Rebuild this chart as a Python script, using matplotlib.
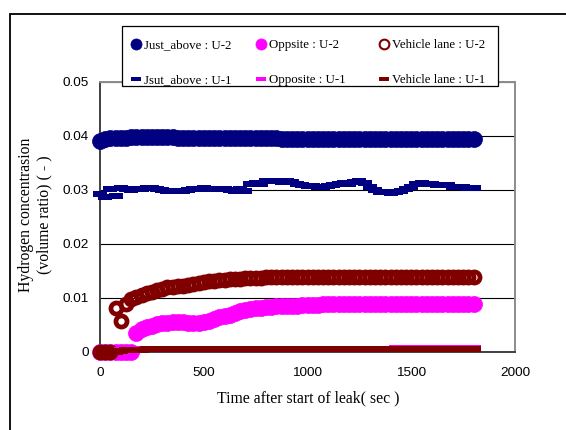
import numpy as np
import matplotlib
matplotlib.use('Agg')
import matplotlib.pyplot as plt
from matplotlib.path import Path
from matplotlib.patches import Rectangle

# ---------------- data ----------------
time_s = np.arange(0, 1801, 25)

just_above_u2 = [
    0.0391, 0.0394, 0.0396, 0.0397, 0.0397, 0.0397, 0.0398, 0.0398, 0.0398, 0.0398,
    0.0398, 0.0399, 0.0398, 0.0398, 0.0398, 0.0397, 0.0397, 0.0397, 0.0397, 0.0397,
    0.0397, 0.0397, 0.0396, 0.0396, 0.0397, 0.0397, 0.0397, 0.0397, 0.0396, 0.0396,
    0.0396, 0.0396, 0.0396, 0.0396, 0.0396, 0.0395, 0.0395, 0.0395, 0.0395, 0.0395,
    0.0395, 0.0395, 0.0395, 0.0395, 0.0395, 0.0395, 0.0395, 0.0395, 0.0395, 0.0395,
    0.0395, 0.0395, 0.0395, 0.0395, 0.0394, 0.0394, 0.0394, 0.0395, 0.0395, 0.0394,
    0.0394, 0.0394, 0.0394, 0.0394, 0.0394, 0.0394, 0.0394, 0.0394, 0.0394, 0.0394,
    0.0394, 0.0394, 0.0394]

opposite_u2 = [
    0.0, 0.0, 0.0, 0.0, 0.0, 0.0, 0.0, 0.0036, 0.0042, 0.0047,
    0.0049, 0.0051, 0.0053, 0.0054, 0.0055, 0.0055, 0.0055, 0.0054, 0.0053, 0.0053,
    0.0055, 0.0058, 0.0062, 0.0065, 0.0066, 0.0068, 0.0072, 0.0076, 0.0078, 0.0080,
    0.0081, 0.0082, 0.0083, 0.0084, 0.0085, 0.0085, 0.0086, 0.0086, 0.0086, 0.0087,
    0.0087, 0.0087, 0.0087, 0.0088, 0.0088, 0.0088, 0.0088, 0.0088, 0.0088, 0.0088,
    0.0088, 0.0088, 0.0089, 0.0089, 0.0089, 0.0089, 0.0089, 0.0089, 0.0089, 0.0089,
    0.0089, 0.0089, 0.0089, 0.0089, 0.0089, 0.0089, 0.0089, 0.0089, 0.0089, 0.0089,
    0.0089, 0.0089, 0.0089]

vehicle_u2 = [
    0.0, 0.0, 0.0, 0.0082, 0.0057, 0.0088, 0.0098, 0.0102, 0.0106, 0.0110,
    0.0112, 0.0114, 0.0117, 0.0120, 0.0121, 0.0122, 0.0123, 0.0124, 0.0126, 0.0128,
    0.0130, 0.0131, 0.0132, 0.0133, 0.0134, 0.0135, 0.0136, 0.0136, 0.0137, 0.0137,
    0.0137, 0.0137, 0.0138, 0.0138, 0.0138, 0.0138, 0.0138, 0.0138, 0.0138, 0.0138,
    0.0138, 0.0138, 0.0138, 0.0138, 0.0138, 0.0138, 0.0138, 0.0138, 0.0138, 0.0138,
    0.0138, 0.0138, 0.0138, 0.0138, 0.0138, 0.0138, 0.0138, 0.0138, 0.0138, 0.0138,
    0.0138, 0.0138, 0.0138, 0.0138, 0.0138, 0.0138, 0.0138, 0.0138, 0.0138, 0.0138,
    0.0138, 0.0138, 0.0138]

just_above_u1 = [
    0.0292, 0.0287, 0.0301, 0.0289, 0.0303, 0.0301, 0.0300, 0.0301, 0.0302, 0.0303,
    0.0304, 0.0302, 0.0300, 0.0298, 0.0298, 0.0299, 0.0298, 0.0300, 0.0302, 0.0302,
    0.0303, 0.0302, 0.0301, 0.0302, 0.0301, 0.0300, 0.0299, 0.0301, 0.0298, 0.0312,
    0.0313, 0.0311, 0.0316, 0.0316, 0.0317, 0.0315, 0.0316, 0.0314, 0.0312, 0.0310,
    0.0308, 0.0307, 0.0305, 0.0306, 0.0307, 0.0309, 0.0312, 0.0313, 0.0311, 0.0314,
    0.0316, 0.0313, 0.0306, 0.0300, 0.0297, 0.0296, 0.0294, 0.0297, 0.0299, 0.0301,
    0.0306, 0.0312, 0.0313, 0.0311, 0.0312, 0.0310, 0.0310, 0.0309, 0.0306, 0.0305,
    0.0305, 0.0304, 0.0303]

opposite_u1 = [
    0.0, 0.0, 0.0, 0.0, 0.0003, 0.0004, 0.0005, 0.0006, 0.0006, 0.0006,
    0.0006, 0.0006, 0.0006, 0.0006, 0.0006, 0.0006, 0.0006, 0.0006, 0.0006, 0.0006,
    0.0006, 0.0006, 0.0006, 0.0006, 0.0006, 0.0006, 0.0006, 0.0006, 0.0006, 0.0006,
    0.0006, 0.0006, 0.0006, 0.0006, 0.0006, 0.0006, 0.0006, 0.0006, 0.0006, 0.0006,
    0.0006, 0.0006, 0.0006, 0.0006, 0.0006, 0.0006, 0.0006, 0.0006, 0.0006, 0.0006,
    0.0006, 0.0006, 0.0006, 0.0006, 0.0006, 0.0006, 0.0006, 0.0007, 0.0007, 0.0008,
    0.0008, 0.0008, 0.0008, 0.0007, 0.0007, 0.0007, 0.0007, 0.0007, 0.0007, 0.0007,
    0.0007, 0.0007, 0.0007]

vehicle_u1 = [
    0.0, 0.0, 0.0, 0.0, 0.0002, 0.0003, 0.0004, 0.0004, 0.0004, 0.0005,
    0.0005, 0.0005, 0.0005, 0.0005, 0.0005, 0.0005, 0.0005, 0.0005, 0.0005, 0.0005,
    0.0005, 0.0005, 0.0005, 0.0005, 0.0005, 0.0005, 0.0005, 0.0005, 0.0005, 0.0005,
    0.0005, 0.0005, 0.0005, 0.0005, 0.0005, 0.0005, 0.0005, 0.0005, 0.0005, 0.0005,
    0.0005, 0.0005, 0.0005, 0.0005, 0.0005, 0.0005, 0.0005, 0.0005, 0.0005, 0.0005,
    0.0005, 0.0005, 0.0005, 0.0005, 0.0005, 0.0005, 0.0005, 0.0005, 0.0005, 0.0005,
    0.0005, 0.0005, 0.0005, 0.0005, 0.0005, 0.0005, 0.0005, 0.0005, 0.0005, 0.0005,
    0.0005, 0.0005, 0.0005]

series_labels = ['Just_above : U-2', 'Oppsite : U-2', 'Vehicle lane : U-2',
                 'Jsut_above : U-1', 'Opposite : U-1', 'Vehicle lane : U-1']

x_ticks = [0, 500, 1000, 1500, 2000]
y_ticks = [0, 0.01, 0.02, 0.03, 0.04, 0.05]
y_tick_labels = ['0', '0.01', '0.02', '0.03', '0.04', '0.05']

x_label = 'Time after start of leak( sec )'
y_label = 'Hydrogen concentrasion\n(volume ratio) ( - )'

# ---------------- styles ----------------
NAVY = '#000080'
MAG = '#FF00FF'
MAROON = '#800000'
SERIF = 'Liberation Serif'
SANS = 'Liberation Sans'

W, H = 566, 430
fig = plt.figure(figsize=(W / 100, H / 100), dpi=100)
fig.patch.set_facecolor('white')

# outer frame (extends beyond right/bottom edge)
fig.add_artist(Rectangle((10 / W, -0.1), 1.2, (H - 14) / H + 0.1,
                         transform=fig.transFigure, fill=False,
                         ec='black', lw=1.3, clip_on=False))

ax = fig.add_axes([100 / W, 1 - 352 / H, 415 / W, 270 / H])

dash = Path([(-1, -0.45), (1, -0.45), (1, 0.45), (-1, 0.45), (-1, -0.45)],
            [Path.MOVETO, Path.LINETO, Path.LINETO, Path.LINETO, Path.CLOSEPOLY])

h1, = ax.plot(time_s, just_above_u2, ls='none', marker='o', ms=11.5,
              mfc=NAVY, mec=NAVY, mew=0.5, clip_on=False, zorder=3)
h2, = ax.plot(time_s, opposite_u2, ls='none', marker='o', ms=11.5,
              mfc=MAG, mec=MAG, mew=0.5, clip_on=False, zorder=3)
h3, = ax.plot(time_s, vehicle_u2, ls='none', marker='o', ms=8.0,
              mfc='none', mec=MAROON, mew=3.4, clip_on=False, zorder=3)
h4, = ax.plot(time_s, just_above_u1, ls='none', marker=dash, ms=10,
              mfc=NAVY, mec=NAVY, mew=0, clip_on=False, zorder=3)
h5, = ax.plot(time_s, opposite_u1, ls='none', marker=dash, ms=10,
              mfc=MAG, mec=MAG, mew=0, clip_on=False, zorder=3)
h6, = ax.plot(time_s, vehicle_u1, ls='none', marker=dash, ms=10,
              mfc=MAROON, mec=MAROON, mew=0, clip_on=False, zorder=3)

ax.set_xlim(0, 2000)
ax.set_ylim(0, 0.05)
ax.set_xticks(x_ticks)
ax.set_xticklabels([str(v) for v in x_ticks])
ax.set_yticks(y_ticks)
ax.set_yticklabels(y_tick_labels)
ax.yaxis.grid(True, color='black', lw=0.8)
ax.set_axisbelow(True)
ax.tick_params(length=0, labelsize=9.7)
ax.tick_params(axis='x', pad=11)
ax.tick_params(axis='y', pad=8)
for lab in ax.get_xticklabels() + ax.get_yticklabels():
    lab.set_fontfamily(SANS)

ax.spines['left'].set_color('#404040')
ax.spines['bottom'].set_color('#404040')
ax.spines['top'].set_color('#8c8c8c')
ax.spines['right'].set_color('#8c8c8c')
for s in ax.spines.values():
    s.set_linewidth(1.4)

fig.text(308 / W, 1 - 398 / H, x_label, family=SERIF, fontsize=11.3,
         ha='center', va='center')
fig.text(35 / W, 1 - 215 / H, y_label, family=SERIF, fontsize=11.3,
         ha='center', va='center', rotation=90, multialignment='center',
         linespacing=1.2)

# legend box
fig.add_artist(Rectangle((122 / W, 1 - 86 / H), 376 / W, 60 / H,
                         transform=fig.transFigure, fc='white', ec='black',
                         lw=0.9, zorder=5))

cols = [([h1, h4], [series_labels[0], series_labels[3]], 131),
        ([h2, h5], [series_labels[1], series_labels[4]], 256),
        ([h3, h6], [series_labels[2], series_labels[5]], 379)]
for hs, ls_, x0 in cols:
    leg = fig.legend(hs, ls_, loc='upper left',
                     bbox_to_anchor=(x0 / W, 1 - 39 / H),
                     frameon=False, borderpad=0, borderaxespad=0,
                     handlelength=0.8, handletextpad=0.2, labelspacing=1.8,
                     prop={'family': SERIF, 'size': 9.3})
    leg.set_zorder(6)
    lh = leg.legend_handles
    if hs[0] is h3:
        lh[0].set_markersize(7.0)
        lh[0].set_markeredgewidth(1.5)
    else:
        lh[0].set_markersize(8)
    lh[1].set_markersize(7.3)

fig.savefig('out.png', dpi=100, facecolor='white')
